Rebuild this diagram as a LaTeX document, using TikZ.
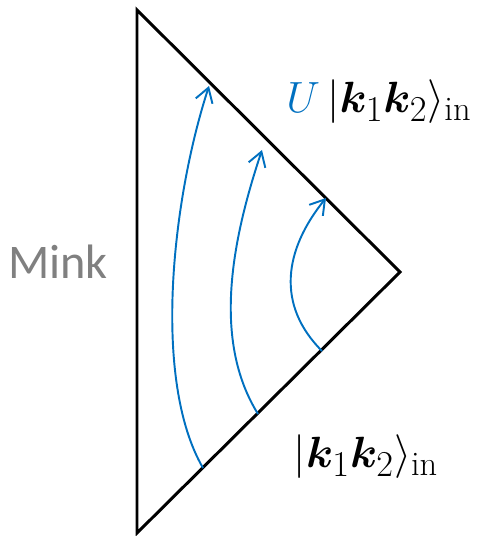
\documentclass[tikz,border=0pt]{standalone}
\usepackage{amsmath}
\usepackage{amsfonts}
\usepackage{bm}
\usepackage{fontspec}
\newfontfamily\minkfont{Carlito}
\usepackage{tikz}
\usetikzlibrary{arrows.meta, positioning}
\definecolor{flowblue}{RGB}{0,112,192}
\definecolor{minkgray}{RGB}{128,128,128}

\begin{document}
\begin{tikzpicture}[x=0.02cm,y=-0.02cm,
    edge/.style={line width=1.7pt,line join=miter},
    flow/.style={draw=flowblue,line width=1.1pt,-{Straight Barb[length=8pt,width=10pt,line width=1.1pt]}},
    lbl/.style={font=\fontsize{28}{33}\selectfont,inner sep=0pt}]
      \useasboundingbox (0,0) rectangle (483,536);
      \coordinate (top) at (137,10);
      \coordinate (bot) at (137,533);
      \coordinate (tip) at (400,272);

      \draw[edge] (top) -- (tip) -- (bot) -- cycle;

      % lines from the lower edge to the upper edge
      \coordinate (a1) at (203,468); \coordinate (b1) at (209,86);
      \coordinate (a2) at (258,414); \coordinate (b2) at (262,150);
      \coordinate (a3) at (322,351); \coordinate (b3) at (326,198);

      \draw[flow] (a1) .. controls (152,380) and (172,200) .. (b1);
      \draw[flow] (a2) .. controls (212,340) and (232,240) .. (b2);
      \draw[flow] (a3) .. controls (276,305) and (284,250) .. (b3);

      \node[lbl] (out) at (379,102) {$\color{flowblue}U\color{black}\,|\bm{k}_1\bm{k}_2\rangle_{\mathrm{in}}$};
      \node[lbl] (in) at (366,457) {$|\bm{k}_1\bm{k}_2\rangle_{\mathrm{in}}$};
      \node[inner sep=0pt,text=minkgray,font=\minkfont\fontsize{27.5}{33}\selectfont] (mink) at (58,262) {Mink};
\end{tikzpicture}
\end{document}
